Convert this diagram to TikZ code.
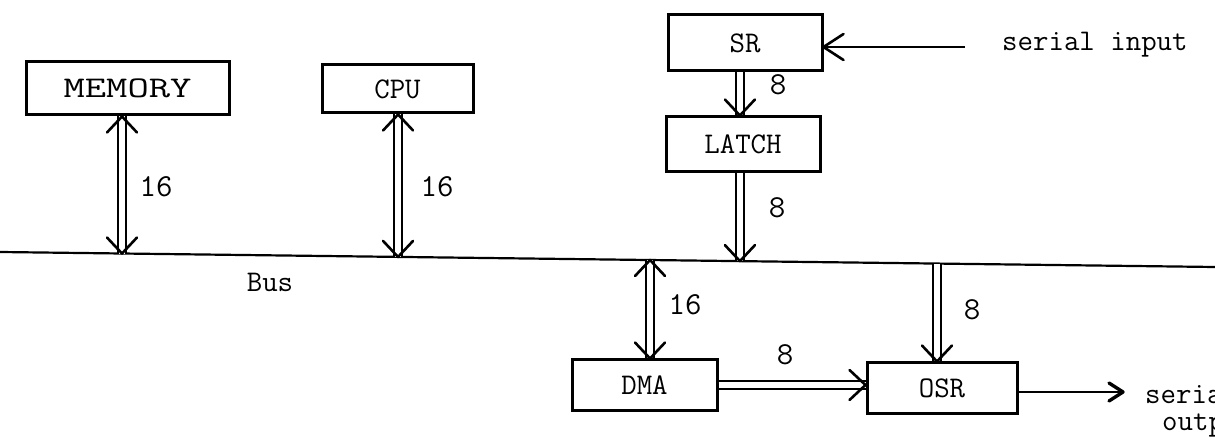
\documentclass[tikz,border=0pt]{standalone}
\usepackage{fontspec}
\usetikzlibrary{calc}
\tikzset{
  box/.style={draw, line width=3pt, inner sep=0pt, font=\ttfamily\fontsize{30}{30}\selectfont},
  lbl/.style={font=\ttfamily\fontsize{32}{32}\selectfont, inner sep=0pt},
  txt/.style={font=\ttfamily\fontsize{30}{30}\selectfont, inner sep=0pt},
  dbl/.style={draw, line width=2pt, double=white, double distance=6pt},
  head/.style={draw, line width=2.6pt, line cap=round, line join=round},
  vdown/.pic={\draw[head] (-15,-16) -- (0,0) -- (15,-16);},
  vup/.pic={\draw[head] (-15,16) -- (0,0) -- (15,16);},
  vright/.pic={\draw[head] (-16,-15) -- (0,0) -- (-16,15);},
  vleftS/.pic={\draw[head] (20,-13) -- (0,0) -- (20,13);},
  vrightS/.pic={\draw[head, line width=3.4pt] (-14,-9) -- (0,0) -- (-14,9);},
}
\begin{document}
\begin{tikzpicture}[x=1pt,y=-1pt]
\path[use as bounding box, clip] (0,0) rectangle (1215,443);
\fill[white] (0,0) rectangle (1215,443);

% boxes
\node[box, minimum width=203pt, minimum height=53pt] (mem) at (127.5,88.5) {\scalebox{1.38}[1]{MEMORY}};
\node[box, minimum width=151pt, minimum height=48pt] (cpu) at (397.5,89) {CPU};
\node[box, minimum width=154pt, minimum height=56pt] (sr) at (745,43) {SR};
\node[box, minimum width=154pt, minimum height=55pt] (latch) at (743,144.5) {LATCH};
\node[box, minimum width=145pt, minimum height=50pt] (dma) at (644.5,385) {DMA};
\node[box, minimum width=150pt, minimum height=50pt] (osr) at (942,388) {OSR};

% bus
\coordinate (busL) at (0,252);
\coordinate (busR) at (1215,267);
\draw[line width=2.2pt] (busL) -- (busR);
\coordinate (bM) at ($(busL)!0.1004!(busR)$);
\coordinate (bC) at ($(busL)!0.3276!(busR)$);
\coordinate (bL) at ($(busL)!0.6090!(busR)$);
\coordinate (bD) at ($(busL)!0.5350!(busR)$);
\coordinate (bO) at ($(busL)!0.7712!(busR)$);

% memory <-> bus
\draw[dbl] (mem.south -| bM) -- (bM);
\pic at (mem.south -| bM) {vup};
\pic at (bM) {vdown};
% cpu <-> bus
\draw[dbl] (cpu.south -| bC) -- (bC);
\pic at (cpu.south -| bC) {vup};
\pic at (bC) {vdown};
% SR -> LATCH
\draw[dbl] (sr.south -| bL) -- (latch.north -| bL);
\pic at (latch.north -| bL) {vdown};
% LATCH -> bus
\draw[dbl] (latch.south -| bL) -- (bL);
\pic at (bL) {vdown};
% bus <-> DMA
\draw[dbl] (bD) -- (dma.north -| bD);
\pic at (bD) {vup};
\pic at (dma.north -| bD) {vdown};
% bus -> OSR
\draw[dbl] (bO) -- (osr.north -| bO);
\pic at (osr.north -| bO) {vdown};
% DMA -> OSR
\draw[dbl] (dma.east) -- (dma.east -| osr.west);
\pic at (dma.east -| osr.west) {vright};

% serial input -> SR
\coordinate (sin) at (965,47);
\draw[line width=2.4pt] (sin) -- (sin -| sr.east);
\pic at (sin -| sr.east) {vleftS};
% OSR -> serial output
\coordinate (sout) at (1123,392);
\draw[line width=2.4pt] (osr.east |- sout) -- (sout);
\pic at (sout) {vrightS};

% labels
\node[lbl] (l1) at (156,187) {16};
\node[lbl] (l2) at (437,187) {16};
\node[lbl] (l3) at (778,85) {8};
\node[lbl] (l4) at (777,208) {8};
\node[lbl] (l5) at (685,305) {16};
\node[lbl] (l6) at (785,355) {8};
\node[lbl] (l7) at (972,310) {8};
\node[txt] (bus) at (270,282) {Bus};
\node[txt, anchor=west] (si) at (1002,45) {serial input};
\node[txt, anchor=west] (so1) at (1145,394) {serial};
\node[txt, anchor=west] (so2) at (1162,426) {output};
\end{tikzpicture}
\end{document}
